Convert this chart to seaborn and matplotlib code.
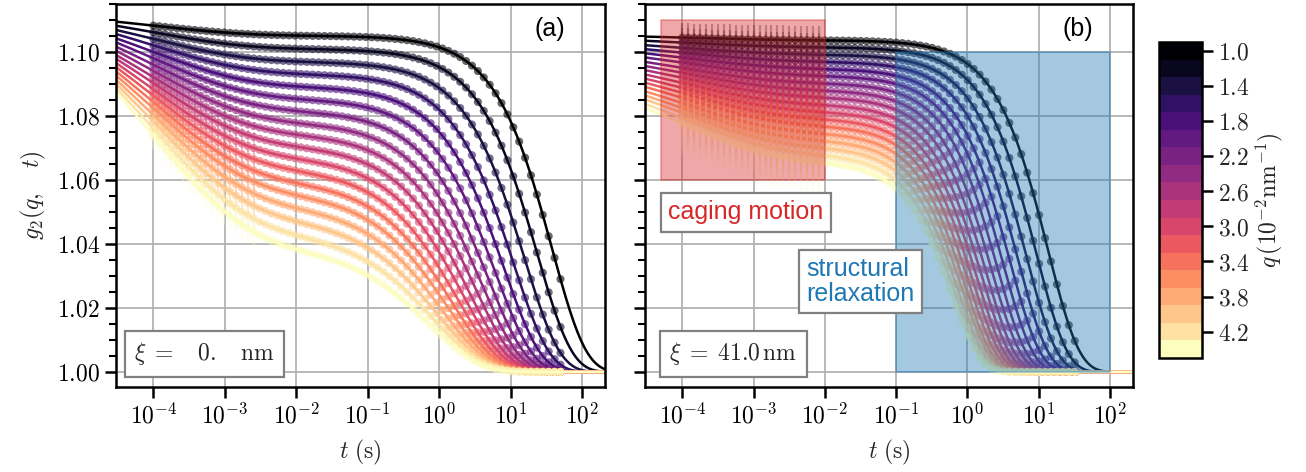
import numpy as np
import pandas as pd
import matplotlib
matplotlib.use("Agg")
import matplotlib.pyplot as plt
import matplotlib as mpl
import seaborn as sns
from matplotlib.colors import ListedColormap, BoundaryNorm
from matplotlib.cm import ScalarMappable
from matplotlib.patches import Rectangle
from matplotlib.ticker import FuncFormatter, MultipleLocator, NullLocator, FixedLocator

# ---------------- data ----------------
q_values = [1.0, 1.2, 1.4, 1.6, 1.8, 2.0, 2.2, 2.4, 2.6, 2.8, 3.0, 3.2, 3.4, 3.6, 3.8, 4.0, 4.2, 4.4]
cbar_ticks = [1.0, 1.4, 1.8, 2.2, 2.6, 3.0, 3.4, 3.8, 4.2]

# fit parameters per q, panel (a): xi = 0 nm
plateau_a = [0.1051, 0.1010, 0.0970, 0.0932, 0.0893, 0.0855, 0.0818, 0.0782, 0.0747,
             0.0711, 0.0675, 0.0639, 0.0602, 0.0566, 0.0527, 0.0487, 0.0444, 0.0400]
fast_a = [0.0087, 0.0143, 0.0196, 0.0246, 0.0297, 0.0347, 0.0394, 0.0440, 0.0483,
          0.0531, 0.0576, 0.0622, 0.0669, 0.0715, 0.0766, 0.0820, 0.0879, 0.0941]
tau_a = [38.0, 23.5, 15.6, 10.9, 8.0, 6.05, 4.7, 3.73, 3.02, 2.48, 2.07, 1.74, 1.48, 1.27,
         1.10, 0.96, 0.85, 0.75]
gamma_a = [0.920, 0.900, 0.880, 0.860, 0.840, 0.820, 0.800, 0.780, 0.760, 0.745, 0.730,
           0.715, 0.700, 0.685, 0.670, 0.655, 0.642, 0.631]
err_a = [0.0005, 0.0005, 0.0006, 0.0007, 0.0008, 0.0009, 0.0010, 0.0012, 0.0014, 0.0016,
         0.0018, 0.0020, 0.0023, 0.0026, 0.0030, 0.0034, 0.0038, 0.0042]

# fit parameters per q, panel (b): xi = 41 nm
plateau_b = [0.1037, 0.1015, 0.0992, 0.0970, 0.0948, 0.0926, 0.0903, 0.0881, 0.0859,
             0.0836, 0.0814, 0.0792, 0.0770, 0.0747, 0.0725, 0.0703, 0.0680, 0.0658]
fast_b = [0.0022, 0.0040, 0.0058, 0.0077, 0.0095, 0.0113, 0.0131, 0.0149, 0.0167,
          0.0186, 0.0204, 0.0222, 0.0240, 0.0258, 0.0276, 0.0295, 0.0313, 0.0331]
tau_b = [13.5, 9.2, 6.66, 5.04, 3.92, 3.15, 2.58, 2.15, 1.81, 1.55, 1.34, 1.17, 1.03, 0.91,
         0.82, 0.73, 0.66, 0.60]
gamma_b = [1.00, 1.01, 1.01, 1.02, 1.02, 1.03, 1.04, 1.04, 1.05, 1.05, 1.06, 1.06, 1.07,
           1.08, 1.08, 1.09, 1.09, 1.10]
err_b = [0.0045, 0.0045, 0.0048, 0.0050, 0.0052, 0.0055, 0.0058, 0.0060, 0.0063, 0.0066,
         0.0070, 0.0073, 0.0076, 0.0080, 0.0083, 0.0086, 0.0090, 0.0095]

tau_fast = 9.5e-5
p_fast = 0.33

xi_labels = [r"$\xi\;=\quad 0.\quad \mathrm{nm}$", r"$\xi\;=\;41.0\,\mathrm{nm}$"]
panel_labels = ["(a)", "(b)"]

# ---------------- build tables ----------------
t_fit = np.geomspace(3e-5, 2.1e2, 400)
t_data = {"a": np.geomspace(1e-4, 50, 70), "b": np.geomspace(1e-4, 32, 67)}
params = {"a": (plateau_a, fast_a, tau_a, gamma_a, err_a),
          "b": (plateau_b, fast_b, tau_b, gamma_b, err_b)}


def g2_model(t, cp, af, tau, gam):
    return 1 + af * np.exp(-(t / tau_fast) ** p_fast) + cp * np.exp(-(t / tau) ** gam)


fit_rows, data_rows = [], []
for panel, (cp_l, af_l, tau_l, gam_l, err_l) in params.items():
    for i, q in enumerate(q_values):
        gf = g2_model(t_fit, cp_l[i], af_l[i], tau_l[i], gam_l[i])
        fit_rows.append(pd.DataFrame({"panel": panel, "q": q, "t": t_fit, "g2": gf}))
        td = t_data[panel]
        gd = g2_model(td, cp_l[i], af_l[i], tau_l[i], gam_l[i])
        cut = 3e-3 if panel == "a" else 1e-2
        er = np.where(td < cut, err_l[i], 0.0)
        data_rows.append(pd.DataFrame({"panel": panel, "q": q, "t": td, "g2": gd, "err": er}))
fits = pd.concat(fit_rows, ignore_index=True)
data = pd.concat(data_rows, ignore_index=True)

# ---------------- style ----------------
sns.set_theme(style="ticks")
plt.rcParams["font.family"] = ["DejaVu Serif"]
plt.rcParams["mathtext.fontset"] = "cm"
plt.rcParams["axes.linewidth"] = 1.8

cmap_full = mpl.colormaps["magma"]
colors = [cmap_full(x) for x in np.linspace(0, 1, len(q_values))]

fig = plt.figure(figsize=(13.06, 4.72), dpi=100)
W, H = 1306, 472
ax1 = fig.add_axes([116 / W, (H - 387) / H, (605 - 116) / W, (387 - 4) / H])
ax2 = fig.add_axes([645 / W, (H - 387) / H, (1133 - 645) / W, (387 - 4) / H])
cax = fig.add_axes([1159 / W, (H - 358) / H, 43 / W, (358 - 42) / H])

FS = 17
for ax, panel, xi_txt, plab in zip([ax1, ax2], ["a", "b"], xi_labels, panel_labels):
    ax.set_xscale("log")
    for i, q in enumerate(q_values):
        sub = data[(data.panel == panel) & (data.q == q)]
        fsub = fits[(fits.panel == panel) & (fits.q == q)]
        esub = sub[sub.err > 0]
        ax.errorbar(esub.t, esub.g2, yerr=esub.err, fmt="none", ecolor=colors[i],
                    alpha=0.3, elinewidth=1.6, zorder=2)
        sns.scatterplot(data=sub, x="t", y="g2", color=colors[i], s=34, alpha=0.6,
                        edgecolor="none", linewidth=0, ax=ax, zorder=2, legend=False)
        sns.lineplot(data=fsub, x="t", y="g2", color=colors[i], linewidth=1.8,
                     ax=ax, zorder=2, legend=False, estimator=None)
    ax.set_xlim(3e-5, 2.1e2)
    ax.set_ylim(0.9953, 1.115)
    ax.xaxis.set_major_locator(FixedLocator([1e-4, 1e-3, 1e-2, 1e-1, 1e0, 1e1, 1e2]))
    ax.xaxis.set_minor_locator(NullLocator())
    ax.xaxis.set_major_formatter(FuncFormatter(lambda v, _: r"$10^{%d}$" % int(np.round(np.log10(v)))))
    ax.yaxis.set_major_locator(MultipleLocator(0.02))
    ax.yaxis.set_minor_locator(MultipleLocator(0.005))
    ax.yaxis.set_major_formatter(FuncFormatter(lambda v, _: r"$%.2f$" % v))
    ax.tick_params(which="major", direction="out", length=8, width=1.8, labelsize=FS,
                   color="black", labelcolor="black")
    ax.tick_params(which="minor", direction="out", length=5, width=1.5, color="black")
    ax.grid(True, which="major", color="#b3b3b3", linewidth=1.3)
    ax.set_axisbelow(True)
    for s in ax.spines.values():
        s.set_color("black")
        s.set_linewidth(1.8)
    ax.set_xlabel(r"$t\ (\mathrm{s})$", fontsize=FS, labelpad=7)
    ax.set_ylabel("")
    ax.text(0.181, 0.087, xi_txt, transform=ax.transAxes, ha="center", va="center",
            fontsize=FS, zorder=6,
            bbox=dict(boxstyle="square,pad=0.4", facecolor="white", edgecolor="#808080",
                      linewidth=1.6))
    ax.text(0.887, 0.936, plab, transform=ax.transAxes, ha="center", va="center",
            fontsize=18, family="Liberation Sans", color="black", zorder=6)

ax1.set_ylabel(r"$g_2(q,\quad t)$", fontsize=FS, labelpad=6)
ax2.tick_params(labelleft=False)

# regions in panel (b)
ax2.add_patch(Rectangle((5e-5, 1.06), 1e-2 - 5e-5, 0.05, color="tab:red", alpha=0.4,
                        linewidth=1.2, zorder=4))
ax2.add_patch(Rectangle((1e-1, 1.0), 1e2 - 1e-1, 0.10, color="tab:blue", alpha=0.4,
                        linewidth=1.2, zorder=4))
ax2.text(0.207, 0.456, "caging motion", transform=ax2.transAxes, ha="center", va="center",
         fontsize=18, family="Liberation Sans", color="tab:red", zorder=6,
         bbox=dict(boxstyle="square,pad=0.3", facecolor="white", edgecolor="#808080",
                   linewidth=1.6))
ax2.text(0.441, 0.2755, "structural\nrelaxation", transform=ax2.transAxes, ha="center",
         va="center", multialignment="left", fontsize=18, family="Liberation Sans",
         color="tab:blue", zorder=6, linespacing=1.05,
         bbox=dict(boxstyle="square,pad=0.3", facecolor="white", edgecolor="#808080",
                   linewidth=1.6))

# colorbar
bounds = np.arange(0.9, 4.61, 0.2)
cmap = ListedColormap(colors)
norm = BoundaryNorm(bounds, cmap.N)
cb = fig.colorbar(ScalarMappable(norm=norm, cmap=cmap), cax=cax, ticks=cbar_ticks)
cax.invert_yaxis()
cax.yaxis.set_minor_locator(NullLocator())
cax.yaxis.set_major_formatter(FuncFormatter(lambda v, _: r"$%.1f$" % v))
cax.tick_params(direction="out", length=8, width=1.8, labelsize=FS, color="black")
cb.outline.set_linewidth(1.8)
cb.outline.set_edgecolor("black")
cb.set_label(r"$q\,(10^{-2}\mathrm{nm}^{-1})$", fontsize=FS, labelpad=3)

fig.savefig("out.png", dpi=100)
